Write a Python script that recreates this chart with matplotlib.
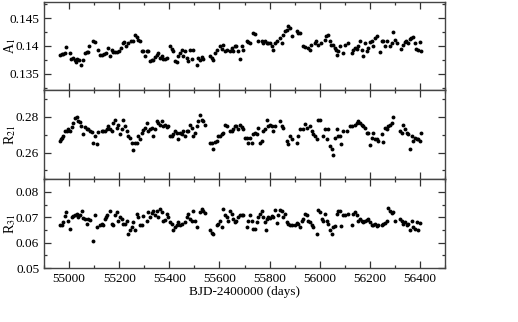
import matplotlib
matplotlib.use("Agg")
import matplotlib.pyplot as plt
from matplotlib.ticker import MultipleLocator, FuncFormatter

plt.rcParams['font.family'] = ['Liberation Serif', 'DejaVu Serif']
plt.rcParams['mathtext.fontset'] = 'stix'

# ---- panel 1 : A1 ----
t_a1 = [54964, 54971, 54977, 54984, 54987, 55004, 55007, 55017, 55024, 55028,
        55033, 55040, 55047, 55054, 55064, 55070, 55077, 55081, 55094, 55102,
        55114, 55124, 55130, 55140, 55148, 55157, 55163, 55170, 55177, 55183,
        55193, 55201, 55206, 55214, 55219, 55227, 55237, 55246, 55254, 55263,
        55270, 55276, 55283, 55290, 55296, 55303, 55310, 55316, 55323, 55330,
        55336, 55343, 55350, 55356, 55363, 55369, 55376, 55383, 55389, 55403,
        55409, 55416, 55423, 55429, 55436, 55443, 55449, 55456, 55463, 55469,
        55476, 55482, 55489, 55496, 55509, 55516, 55522, 55529, 55536, 55562,
        55569, 55575, 55582, 55589, 55602, 55609, 55615, 55622, 55629, 55642,
        55649, 55655, 55662, 55668, 55675, 55682, 55689, 55695, 55708, 55715,
        55722, 55735, 55742, 55755, 55768, 55775, 55781, 55788, 55795, 55801,
        55808, 55815, 55821, 55828, 55841, 55848, 55855, 55861, 55868, 55874,
        55881, 55888, 55908, 55914, 55921, 55934, 55941, 55954, 55961, 55967,
        55981, 55987, 55994, 56007, 56021, 56027, 56034, 56041, 56047, 56054,
        56061, 56067, 56070, 56074, 56080, 56094, 56100, 56114, 56127, 56134,
        56140, 56147, 56154, 56160, 56167, 56174, 56180, 56187, 56194, 56200,
        56207, 56213, 56220, 56227, 56240, 56247, 56253, 56260, 56267, 56280,
        56287, 56293, 56300, 56307, 56326, 56333, 56340, 56346, 56353, 56360,
        56366, 56373, 56380, 56386, 56393, 56400, 56406]
a1 = [0.1384, 0.1386, 0.1386, 0.1387, 0.1398, 0.1387, 0.1377, 0.1378, 0.1375, 0.1371,
      0.1377, 0.1374, 0.1365, 0.1374, 0.1387, 0.1389, 0.1389, 0.1399, 0.1409, 0.1407,
      0.1393, 0.1384, 0.1383, 0.1386, 0.1387, 0.1396, 0.1381, 0.1392, 0.1389, 0.1389,
      0.1389, 0.1390, 0.1396, 0.1405, 0.1407, 0.1399, 0.1405, 0.1408, 0.1408, 0.1419,
      0.1416, 0.1410, 0.1408, 0.1391, 0.1390, 0.1381, 0.1390, 0.1390, 0.1372, 0.1375,
      0.1374, 0.1380, 0.1384, 0.1387, 0.1378, 0.1381, 0.1377, 0.1377, 0.1378, 0.1399,
      0.1395, 0.1390, 0.1372, 0.1371, 0.1381, 0.1387, 0.1393, 0.1381, 0.1390, 0.1378,
      0.1372, 0.1393, 0.1377, 0.1392, 0.1365, 0.1378, 0.1375, 0.1380, 0.1377, 0.1381,
      0.1378, 0.1375, 0.1387, 0.1393, 0.1399, 0.1395, 0.1402, 0.1390, 0.1392, 0.1390,
      0.1396, 0.1390, 0.1399, 0.1399, 0.1390, 0.1377, 0.1399, 0.1393, 0.1408, 0.1407,
      0.1405, 0.1423, 0.1422, 0.1408, 0.1408, 0.1405, 0.1408, 0.1405, 0.1405, 0.1405,
      0.1399, 0.1392, 0.1405, 0.1408, 0.1414, 0.1405, 0.1420, 0.1426, 0.1429, 0.1435,
      0.1432, 0.1417, 0.1426, 0.1423, 0.1423, 0.1399, 0.1398, 0.1396, 0.1393, 0.1402,
      0.1405, 0.1408, 0.1402, 0.1405, 0.1411, 0.1417, 0.1419, 0.1408, 0.1402, 0.1402,
      0.1396, 0.1393, 0.1383, 0.1390, 0.1399, 0.1387, 0.1402, 0.1405, 0.1387, 0.1393,
      0.1396, 0.1395, 0.1399, 0.1408, 0.1393, 0.1381, 0.1405, 0.1390, 0.1396, 0.1407,
      0.1408, 0.1399, 0.1414, 0.1417, 0.1389, 0.1408, 0.1408, 0.1399, 0.1408, 0.1399,
      0.1405, 0.1425, 0.1411, 0.1405, 0.1395, 0.1402, 0.1407, 0.1408, 0.1405, 0.1413,
      0.1414, 0.1416, 0.1405, 0.1395, 0.1392, 0.1407, 0.1390]

# ---- panel 2 : R21 ----
t_r21 = [54964, 54968, 54972, 54977, 54984, 54991, 54997, 55004, 55011, 55017,
         55024, 55031, 55035, 55044, 55048, 55054, 55064, 55070, 55077, 55084,
         55090, 55097, 55104, 55110, 55117, 55130, 55137, 55144, 55150, 55157,
         55163, 55170, 55177, 55183, 55190, 55197, 55203, 55210, 55217, 55223,
         55230, 55237, 55243, 55250, 55256, 55263, 55270, 55276, 55283, 55290,
         55296, 55303, 55310, 55316, 55323, 55330, 55336, 55343, 55350, 55356,
         55363, 55369, 55376, 55383, 55389, 55396, 55403, 55409, 55416, 55423,
         55429, 55436, 55443, 55449, 55456, 55463, 55469, 55476, 55482, 55489,
         55496, 55502, 55509, 55516, 55522, 55529, 55536, 55542, 55562, 55569,
         55575, 55582, 55589, 55595, 55602, 55609, 55615, 55622, 55629, 55642,
         55649, 55655, 55662, 55668, 55675, 55682, 55689, 55695, 55702, 55708,
         55715, 55722, 55728, 55735, 55742, 55748, 55755, 55762, 55768, 55775,
         55781, 55788, 55795, 55801, 55808, 55815, 55821, 55841, 55848, 55855,
         55868, 55874, 55881, 55888, 55908, 55914, 55921, 55934, 55941, 55948,
         55961, 55968, 55974, 55981, 55988, 55994, 56001, 56014, 56021, 56028,
         56034, 56041, 56048, 56052, 56061, 56068, 56074, 56081, 56087, 56094,
         56107, 56121, 56127, 56141, 56147, 56154, 56161, 56167, 56174, 56180,
         56187, 56194, 56200, 56207, 56214, 56220, 56227, 56234, 56247, 56254,
         56260, 56267, 56274, 56280, 56287, 56293, 56320, 56327, 56333, 56340,
         56347, 56353, 56360, 56367, 56373, 56380, 56387, 56393, 56400, 56406]
r21 = [0.2665, 0.2674, 0.2680, 0.2693, 0.2720, 0.2720, 0.2730, 0.2720, 0.2745, 0.2767,
       0.2794, 0.2800, 0.2776, 0.2770, 0.2748, 0.2702, 0.2745, 0.2730, 0.2730, 0.2720,
       0.2715, 0.2656, 0.2693, 0.2646, 0.2715, 0.2720, 0.2720, 0.2720, 0.2733, 0.2748,
       0.2730, 0.2720, 0.2767, 0.2785, 0.2739, 0.2757, 0.2702, 0.2730, 0.2785, 0.2748,
       0.2720, 0.2693, 0.2683, 0.2656, 0.2615, 0.2656, 0.2656, 0.2693, 0.2674, 0.2711,
       0.2726, 0.2739, 0.2767, 0.2720, 0.2733, 0.2739, 0.2693, 0.2730, 0.2776, 0.2767,
       0.2757, 0.2776, 0.2748, 0.2757, 0.2745, 0.2748, 0.2693, 0.2693, 0.2702, 0.2720,
       0.2711, 0.2674, 0.2711, 0.2702, 0.2720, 0.2693, 0.2720, 0.2720, 0.2757, 0.2739,
       0.2693, 0.2711, 0.2748, 0.2776, 0.2809, 0.2785, 0.2776, 0.2757, 0.2656, 0.2656,
       0.2622, 0.2659, 0.2665, 0.2693, 0.2693, 0.2702, 0.2711, 0.2757, 0.2748, 0.2720,
       0.2720, 0.2730, 0.2748, 0.2752, 0.2733, 0.2757, 0.2745, 0.2730, 0.2683, 0.2683,
       0.2656, 0.2683, 0.2656, 0.2702, 0.2711, 0.2702, 0.2739, 0.2656, 0.2665, 0.2720,
       0.2730, 0.2782, 0.2748, 0.2757, 0.2748, 0.2720, 0.2748, 0.2776, 0.2748, 0.2739,
       0.2665, 0.2646, 0.2693, 0.2674, 0.2656, 0.2693, 0.2733, 0.2730, 0.2761, 0.2739,
       0.2748, 0.2720, 0.2702, 0.2693, 0.2674, 0.2782, 0.2785, 0.2693, 0.2730, 0.2674,
       0.2730, 0.2637, 0.2619, 0.2587, 0.2683, 0.2733, 0.2693, 0.2693, 0.2646, 0.2720,
       0.2720, 0.2748, 0.2752, 0.2757, 0.2767, 0.2776, 0.2767, 0.2757, 0.2748, 0.2739,
       0.2711, 0.2711, 0.2641, 0.2683, 0.2711, 0.2674, 0.2674, 0.2665, 0.2702, 0.2659,
       0.2739, 0.2730, 0.2748, 0.2757, 0.2767, 0.2800, 0.2720, 0.2711, 0.2757, 0.2730,
       0.2711, 0.2702, 0.2619, 0.2693, 0.2665, 0.2683, 0.2674, 0.2674, 0.2665, 0.2711]

# ---- panel 3 : R31 ----
t_r31 = [54964, 54971, 54977, 54984, 54988, 54997, 55004, 55011, 55017, 55024,
         55031, 55037, 55044, 55051, 55057, 55064, 55070, 55077, 55084, 55097,
         55104, 55110, 55124, 55130, 55137, 55144, 55148, 55150, 55163, 55170,
         55177, 55183, 55190, 55197, 55203, 55210, 55217, 55223, 55230, 55237,
         55243, 55250, 55256, 55263, 55270, 55276, 55283, 55290, 55296, 55310,
         55316, 55323, 55330, 55336, 55343, 55350, 55356, 55363, 55369, 55376,
         55383, 55389, 55396, 55403, 55409, 55416, 55423, 55429, 55436, 55443,
         55449, 55463, 55469, 55476, 55482, 55489, 55496, 55502, 55509, 55522,
         55529, 55536, 55542, 55562, 55569, 55575, 55589, 55595, 55602, 55609,
         55615, 55622, 55629, 55635, 55642, 55649, 55655, 55662, 55668, 55675,
         55682, 55689, 55695, 55708, 55715, 55722, 55728, 55735, 55742, 55748,
         55755, 55762, 55768, 55775, 55781, 55785, 55791, 55795, 55801, 55808,
         55815, 55821, 55828, 55835, 55841, 55848, 55855, 55861, 55868, 55874,
         55881, 55888, 55901, 55908, 55914, 55921, 55928, 55934, 55941, 55948,
         55954, 55961, 55968, 55974, 55988, 55994, 56001, 56008, 56014, 56021,
         56028, 56034, 56041, 56048, 56054, 56061, 56068, 56074, 56081, 56087,
         56094, 56101, 56114, 56127, 56134, 56141, 56147, 56154, 56161, 56167,
         56174, 56180, 56187, 56194, 56200, 56207, 56214, 56220, 56227, 56234,
         56247, 56254, 56260, 56267, 56274, 56280, 56287, 56293, 56300, 56320,
         56327, 56333, 56340, 56347, 56353, 56360, 56367, 56373, 56380, 56387,
         56393, 56400]
r31 = [0.0670, 0.0671, 0.0681, 0.0703, 0.0720, 0.0687, 0.0655, 0.0700, 0.0703, 0.0707,
       0.0713, 0.0700, 0.0710, 0.0726, 0.0697, 0.0694, 0.0674, 0.0694, 0.0690, 0.0605,
       0.0710, 0.0661, 0.0668, 0.0674, 0.0670, 0.0694, 0.0700, 0.0707, 0.0723, 0.0674,
       0.0668, 0.0707, 0.0720, 0.0687, 0.0700, 0.0694, 0.0674, 0.0674, 0.0687, 0.0635,
       0.0648, 0.0661, 0.0681, 0.0648, 0.0713, 0.0700, 0.0668, 0.0668, 0.0703, 0.0687,
       0.0720, 0.0700, 0.0716, 0.0726, 0.0707, 0.0726, 0.0700, 0.0733, 0.0720, 0.0684,
       0.0690, 0.0713, 0.0700, 0.0681, 0.0674, 0.0648, 0.0661, 0.0668, 0.0681, 0.0668,
       0.0674, 0.0681, 0.0700, 0.0713, 0.0694, 0.0687, 0.0726, 0.0687, 0.0661, 0.0720,
       0.0733, 0.0726, 0.0716, 0.0648, 0.0638, 0.0635, 0.0668, 0.0674, 0.0687, 0.0661,
       0.0733, 0.0707, 0.0700, 0.0687, 0.0726, 0.0713, 0.0694, 0.0681, 0.0687, 0.0700,
       0.0707, 0.0707, 0.0707, 0.0661, 0.0687, 0.0707, 0.0687, 0.0655, 0.0655, 0.0681,
       0.0700, 0.0713, 0.0726, 0.0700, 0.0681, 0.0648, 0.0694, 0.0700, 0.0697, 0.0703,
       0.0700, 0.0729, 0.0677, 0.0707, 0.0729, 0.0723, 0.0700, 0.0713, 0.0681, 0.0674,
       0.0671, 0.0671, 0.0668, 0.0677, 0.0674, 0.0661, 0.0687, 0.0694, 0.0713, 0.0707,
       0.0687, 0.0681, 0.0668, 0.0661, 0.0635, 0.0729, 0.0720, 0.0694, 0.0687, 0.0713,
       0.0687, 0.0674, 0.0648, 0.0632, 0.0661, 0.0664, 0.0713, 0.0726, 0.0723, 0.0664,
       0.0707, 0.0707, 0.0713, 0.0668, 0.0713, 0.0720, 0.0707, 0.0687, 0.0694, 0.0687,
       0.0681, 0.0687, 0.0690, 0.0694, 0.0681, 0.0668, 0.0668, 0.0674, 0.0665, 0.0668,
       0.0668, 0.0674, 0.0677, 0.0687, 0.0736, 0.0726, 0.0716, 0.0720, 0.0687, 0.0694,
       0.0687, 0.0674, 0.0681, 0.0668, 0.0674, 0.0648, 0.0687, 0.0661, 0.0655, 0.0681,
       0.0648, 0.0677]

panels = [
    (t_a1, a1, r'A$_1$', (0.132, 0.148), 0.005, 0.0025),
    (t_r21, r21, r'R$_{21}$', (0.245, 0.295), 0.02, 0.01),
    (t_r31, r31, r'R$_{31}$', (0.05, 0.085), 0.01, 0.005),
]

fig, axes = plt.subplots(3, 1, sharex=True, figsize=(5.18, 3.22), dpi=100)
fig.subplots_adjust(left=44/518, right=445/518, top=1-1.5/322, bottom=1-268/322, hspace=0)

fmt = FuncFormatter(lambda v, p: '%g' % round(v, 4))
for ax, (t, y, lab, ylim, major, minor) in zip(axes, panels):
    assert len(t) == len(y), lab
    ax.plot(t, y, 'o', color='black', ms=2.8, mec='black', mew=0)
    ax.set_ylim(*ylim)
    ax.yaxis.set_major_locator(MultipleLocator(major))
    ax.yaxis.set_minor_locator(MultipleLocator(minor))
    ax.yaxis.set_major_formatter(fmt)
    # y label placed by hand, centred about 10 px from the left edge
    pos = ax.get_position()
    fig.text(10/518, (pos.y0 + pos.y1) / 2, lab, rotation=90, fontsize=10,
             ha='center', va='center')
    ax.tick_params(which='both', direction='in', top=True, right=True,
                   labelsize=9.5, width=0.9, color='#333333')
    ax.tick_params(which='major', length=5)
    ax.tick_params(which='minor', length=2.5)
    for s in ax.spines.values():
        s.set_linewidth(1.0)
        s.set_color('#444444')

ax = axes[-1]
ax.set_xlim(54900, 56500)
ax.xaxis.set_major_locator(MultipleLocator(200))
ax.xaxis.set_minor_locator(MultipleLocator(100))
ax.set_xlabel('BJD-2400000 (days)', fontsize=9.5, labelpad=1)

fig.savefig('out.png', dpi=100)
